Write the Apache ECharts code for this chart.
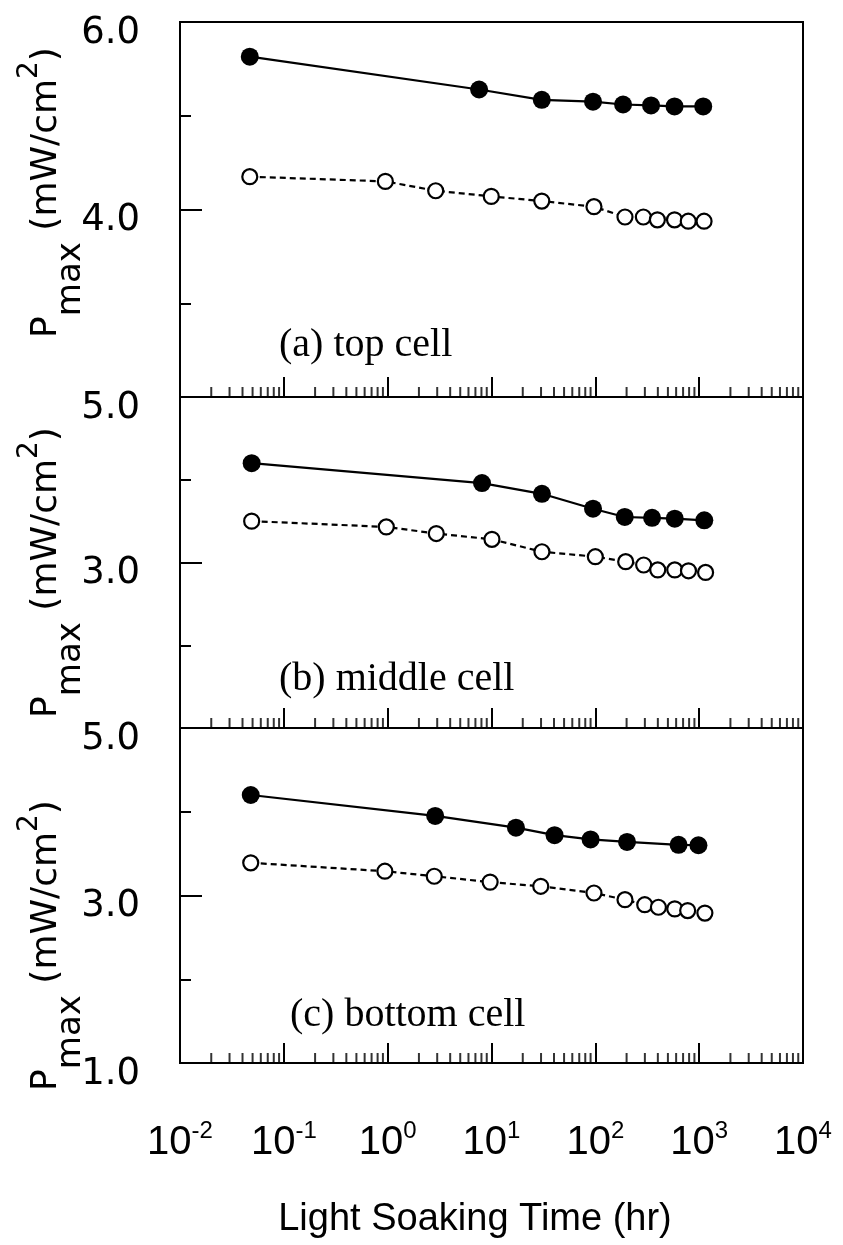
<!DOCTYPE html>
<html>
<head>
<meta charset="utf-8">
<title>Pmax vs light soaking time</title>
<script src="https://cdn.jsdelivr.net/npm/echarts@6/dist/echarts.min.js"></script>
<style>
  html, body { margin: 0; padding: 0; background: #fff; }
  #chart { width: 843px; height: 1245px; }
</style>
</head>
<body>
<div id="chart"></div>
<script>
// light soaking time (hr) and Pmax (mW/cm2)
// (a) top cell
const timeFilledA = [0.047, 7.6, 30.5, 95, 185, 344, 579, 1094]
const pmaxFilledA = [5.63, 5.28, 5.17, 5.15, 5.12, 5.11, 5.10, 5.10]
const timeOpenA = [0.047, 0.95, 2.9, 9.95, 30.5, 97, 193, 290, 396, 579, 785, 1115]
const pmaxOpenA = [4.35, 4.30, 4.20, 4.14, 4.09, 4.03, 3.92, 3.92, 3.89, 3.89, 3.875, 3.875]
// (b) middle cell
const timeFilledB = [0.049, 8.1, 30.6, 95, 192, 352, 582, 1120]
const pmaxFilledB = [4.20, 3.96, 3.83, 3.65, 3.55, 3.54, 3.53, 3.51]
const timeOpenB = [0.049, 0.97, 2.94, 10.1, 30.6, 100, 196, 292, 399, 582, 789, 1153]
const pmaxOpenB = [3.50, 3.43, 3.35, 3.28, 3.13, 3.07, 3.01, 2.97, 2.91, 2.91, 2.90, 2.88]
// (c) bottom cell
const timeFilledC = [0.048, 2.87, 17.2, 40.5, 90, 202, 633, 984]
const pmaxFilledC = [4.20, 3.95, 3.81, 3.72, 3.67, 3.64, 3.605, 3.60]
const timeOpenC = [0.048, 0.94, 2.81, 9.7, 29.8, 97, 193, 299, 405, 582, 775, 1135]
const pmaxOpenC = [3.39, 3.29, 3.23, 3.16, 3.11, 3.03, 2.95, 2.89, 2.86, 2.84, 2.82, 2.79]

const panelLabels = ['(a) top cell', '(b) middle cell', '(c) bottom cell']
const yMins = [2, 1, 1]
const yMaxs = [6, 5, 5]
const xMin = 0.01
const xMax = 10000
const xTitle = 'Light Soaking Time (hr)'

// minor ticks of the log axis (2..9 in each decade)
const decades = [0.01, 0.1, 1, 10, 100, 1000]
const minorDigits = [2, 3, 4, 5, 6, 7, 8, 9]
const minorTicks = []
decades.forEach(d => minorDigits.forEach(k => minorTicks.push(+(d * k).toPrecision(3))))

const filled = [[timeFilledA, pmaxFilledA], [timeFilledB, pmaxFilledB], [timeFilledC, pmaxFilledC]]
const open = [[timeOpenA, pmaxOpenA], [timeOpenB, pmaxOpenB], [timeOpenC, pmaxOpenC]]

const zip = (xs, ys) => xs.map((x, i) => [x, ys[i]])

const grids = [
	{ left: 180, width: 623, top: 22, height: 375 },
	{ left: 180, width: 623, top: 397, height: 331 },
	{ left: 180, width: 623, top: 728, height: 335 }
].map(g => Object.assign(g, {
	show: true,
	borderColor: '#000',
	borderWidth: 2,
	backgroundColor: 'transparent',
	outerBoundsMode: 'none'
}))

const xAxes = [0, 1, 2].map(i => ({
	type: 'log',
	logBase: 10,
	gridIndex: i,
	min: xMin,
	max: xMax,
	splitNumber: 6,
	axisLine: { show: true, lineStyle: { color: '#000', width: 2 } },
	axisTick: { show: true, inside: true, length: 20, lineStyle: { color: '#000', width: 2 } },
	splitLine: { show: false },
	axisLabel: {
		show: i === 2,
		margin: 56,
		showMinLabel: true,
		showMaxLabel: true,
		formatter: v => '{b|10}{s|' + Math.round(Math.log10(v)) + '}',
		rich: {
			b: { fontFamily: 'Liberation Sans', fontSize: 40, lineHeight: 44, color: '#000', verticalAlign: 'bottom' },
			s: { fontFamily: 'Liberation Sans', fontSize: 24, lineHeight: 24, color: '#000', verticalAlign: 'top', padding: [0, 0, 30, 0] }
		}
	},
	name: i === 2 ? xTitle : '',
	nameLocation: 'middle',
	nameGap: 138,
	nameTextStyle: { fontFamily: 'Liberation Sans', fontSize: 38, color: '#000', padding: [0, 33, 0, 0] }
}))

// the y titles are not centred on their axes: padding [up side, down side] moves them
const yNamePad = [[0, 34], [20, 0], [100, 0]]

const yAxes = [0, 1, 2].map(i => ({
	type: 'value',
	gridIndex: i,
	min: yMins[i],
	max: yMaxs[i],
	interval: 2,
	axisLine: { show: true, lineStyle: { color: '#000', width: 2 } },
	axisTick: { show: true, inside: true, length: 22, lineStyle: { color: '#000', width: 2 } },
	minorTick: { show: true, splitNumber: 2, length: 11, lineStyle: { color: '#000', width: 2 } },
	splitLine: { show: false },
	axisLabel: {
		margin: 40,
		showMinLabel: i === 2,
		showMaxLabel: true,
		fontFamily: 'DejaVu Sans',
		fontSize: 37,
		color: '#000',
		verticalAlign: 'top',
		lineHeight: 22,
		formatter: v => v.toFixed(1)
	},
	name: '{p|P}{sub|max}{p| }{p|(mW/cm}{sup|2}{p|)}',
	nameLocation: 'middle',
	nameRotate: 90,
	nameGap: 92,
	nameMoveOverlap: false,
	nameTextStyle: {
		padding: [0, yNamePad[i][0], 0, yNamePad[i][1]],
		rich: {
			p: { fontFamily: 'DejaVu Sans', fontSize: 36, lineHeight: 83, color: '#000' },
			sub: { fontFamily: 'DejaVu Sans', fontSize: 34, lineHeight: 34, color: '#000', verticalAlign: 'bottom' },
			sup: { fontFamily: 'DejaVu Sans', fontSize: 28, lineHeight: 24, color: '#000', verticalAlign: 'top', padding: [11, 0, 0, 0] }
		}
	}
}))

const series = []
for (let i = 0; i < 3; i++) {
	series.push({
		type: 'line',
		xAxisIndex: i,
		yAxisIndex: i,
		data: zip(filled[i][0], filled[i][1]),
		symbol: 'circle',
		symbolSize: 18,
		itemStyle: { color: '#000' },
		lineStyle: { color: '#000', width: 2.2 },
		z: 3
	})
	series.push({
		type: 'line',
		xAxisIndex: i,
		yAxisIndex: i,
		data: zip(open[i][0], open[i][1]),
		symbol: 'circle',
		symbolSize: 15,
		itemStyle: { color: '#fff', borderColor: '#000', borderWidth: 2.2 },
		lineStyle: { color: '#000', width: 2.2, type: [6, 4] },
		z: 3
	})
	// short minor tick marks standing on the time axis
	series.push({
		type: 'scatter',
		xAxisIndex: i,
		yAxisIndex: i,
		data: minorTicks.map(t => [t, yMins[i]]),
		symbol: 'rect',
		symbolSize: [2, 10],
		symbolOffset: [0, -5],
		itemStyle: { color: '#000' },
		silent: true,
		clip: false,
		z: 2
	})
}

const titleTops = [325, 659, 995]
const titleLefts = [279, 279, 290]
const titles = panelLabels.map((t, i) => ({
	text: t,
	left: titleLefts[i],
	top: titleTops[i],
	padding: 0,
	textStyle: { fontFamily: 'Liberation Serif', fontSize: 40, fontWeight: 'normal', color: '#000' }
}))

const chart = echarts.init(document.getElementById('chart'), null, { renderer: 'canvas' })
chart.setOption({
	animation: false,
	backgroundColor: '#fff',
	title: titles,
	grid: grids,
	xAxis: xAxes,
	yAxis: yAxes,
	series: series
})
</script>
</body>
</html>
